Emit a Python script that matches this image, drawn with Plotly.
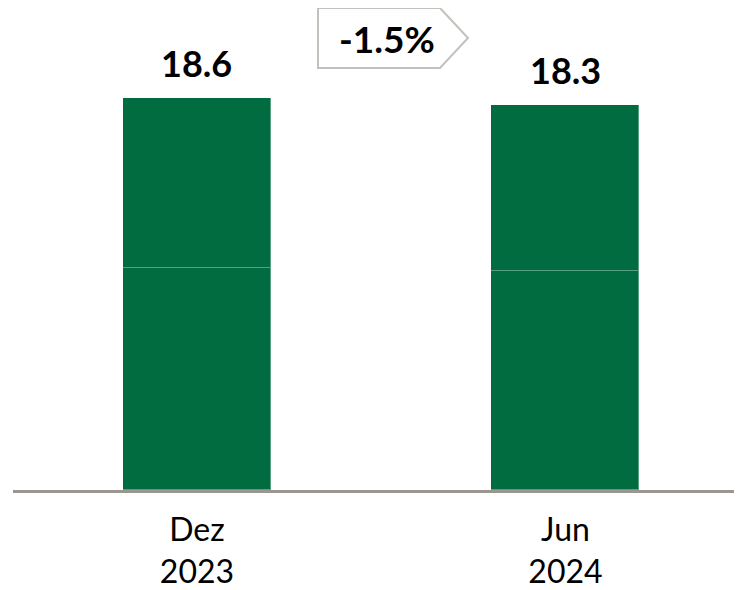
import plotly.graph_objects as go

categories = ["Dez<br>2023", "Jun<br>2024"]
bottom_values = [10.56, 10.4]
top_values = [8.04, 7.9]
totals = [18.6, 18.3]
total_labels = ["18.6", "18.3"]
change_label = "-1.5%"

GREEN = "#006C3F"
FONT = "Lato, 'Open Sans', sans-serif"
xs = list(range(len(categories)))

# page body has an 8px margin: figure drawn at screen (8, 8)
OFF = 8
W, H = 742 - OFF, 590 - OFF
L, R = 13, 742      # plot area in screen px
T, B = 8, 490

fig = go.Figure()
for vals in (bottom_values, top_values):
    fig.add_trace(go.Bar(
        x=xs, y=vals, width=0.4016,
        marker=dict(color=GREEN, line=dict(color="rgba(255,255,255,0.35)", width=1)),
        hoverinfo="skip", showlegend=False,
    ))

for x, t, lab in zip(xs, totals, total_labels):
    fig.add_annotation(x=x, y=t, text=f"<b>{lab}</b>", showarrow=False,
                       yanchor="bottom", xanchor="center", yshift=11,
                       font=dict(family=FONT, size=36, color="#000000"))

def px(x): return (x - L) / (R - L)
def py(y): return (B - y) / (B - T)
path = (f"M {px(318)},{py(8)} L {px(440)},{py(8)} L {px(468)},{py(38)} "
        f"L {px(440)},{py(68)} L {px(318)},{py(68)} Z")
fig.add_shape(type="path", path=path, xref="paper", yref="paper",
              line=dict(color="#c4c1bc", width=2), fillcolor="white", layer="above")
fig.add_annotation(x=px(387), y=py(39), xref="paper", yref="paper",
                   xanchor="center", yanchor="middle",
                   text=f"<b>{change_label}</b>", showarrow=False,
                   font=dict(family=FONT, size=37, color="#000000"))

fig.update_layout(
    barmode="stack", bargap=0,
    width=W, height=H,
    margin=dict(l=L - OFF, r=742 - R, t=T - OFF, b=590 - B),
    plot_bgcolor="white", paper_bgcolor="white",
    xaxis=dict(range=[-0.4993, 1.479], tickvals=xs, ticktext=categories,
               showline=True, linecolor="#9b9690", linewidth=3,
               showgrid=False, zeroline=False, ticks="", ticklabelstandoff=10,
               tickfont=dict(family=FONT, size=32, color="#000000")),
    yaxis=dict(range=[0, (B - T) / 21.05], visible=False, showgrid=False, zeroline=False),
)

fig.write_html("out.html")
